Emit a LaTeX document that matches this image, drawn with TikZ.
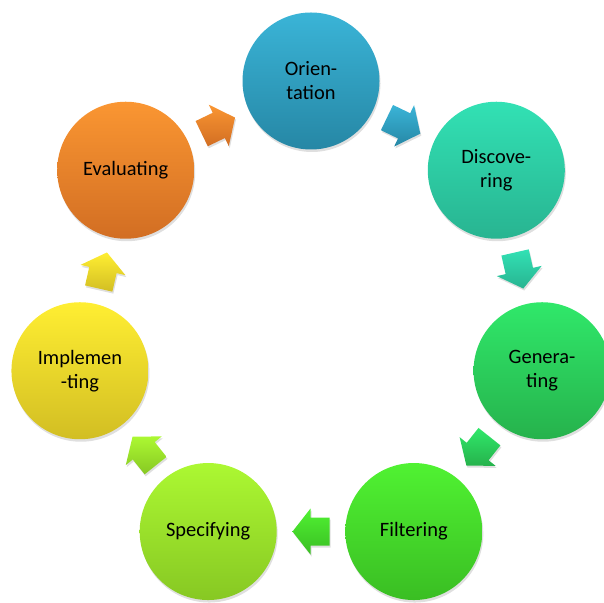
\documentclass[tikz,border=0pt]{standalone}
\usepackage{fontspec}
\setmainfont{Carlito}
\usetikzlibrary{calc,shadows}

\definecolor{oriTop}{HTML}{3AB4D7}  \definecolor{oriBot}{HTML}{2687A5}
\definecolor{disTop}{HTML}{32E1B4}  \definecolor{disBot}{HTML}{28B491}
\definecolor{genTop}{HTML}{30E86A}  \definecolor{genBot}{HTML}{26B24C}
\definecolor{filTop}{HTML}{50F232}  \definecolor{filBot}{HTML}{3ABE23}
\definecolor{speTop}{HTML}{ACF832}  \definecolor{speBot}{HTML}{87C823}
\definecolor{impTop}{HTML}{FFEE32}  \definecolor{impBot}{HTML}{D2BE23}
\definecolor{evaTop}{HTML}{FA9632}  \definecolor{evaBot}{HTML}{D26E23}

\tikzset{
  stage/.style={circle, minimum size=137bp, inner sep=0pt, align=center,
    font=\fontsize{20.5}{24}\selectfont, text=black,
    drop shadow={opacity=0.25, shadow xshift=1bp, shadow yshift=-2.5bp}},
  blockarrow/.style={drop shadow={opacity=0.25, shadow xshift=1bp, shadow yshift=-2bp}}
}

% block arrow at a named point, turned by an angle
\newcommand{\cyclearrow}[4]{%
  \begin{scope}[shift={(#1)}, rotate=#2]
    \path[blockarrow, top color=#3, bottom color=#4]
      (-18.5,-14) -- (0.5,-14) -- (0.5,-23) -- (18.5,0) -- (0.5,23)
      -- (0.5,14) -- (-18.5,14) -- cycle;
  \end{scope}}

\begin{document}
\begin{tikzpicture}[x=1bp, y=1bp]

   \useasboundingbox (0,0) rectangle (604,603);
   \coordinate (c) at (311,285);

   \node[stage, top color=oriTop, bottom color=oriBot] (ori) at ($(c)+(90:237)$) {Orien-\\tation};
   \node[stage, top color=disTop, bottom color=disBot] (dis) at ($(c)+(38.57:237)$) {Discove-\\ring};
   \node[stage, top color=genTop, bottom color=genBot] (gen) at ($(c)+(-12.86:237)$) {Genera-\\ting};
   \node[stage, top color=filTop, bottom color=filBot] (fil) at ($(c)+(-64.29:237)$) {Filtering};
   \node[stage, top color=speTop, bottom color=speBot] (spe) at ($(c)+(-115.71:237)$) {Specifying};
   \node[stage, top color=impTop, bottom color=impBot] (imp) at ($(c)+(-167.14:237)$) {Implemen\\-ting};
   \node[stage, top color=evaTop, bottom color=evaBot] (eva) at ($(c)+(141.43:237)$) {Evaluating};

   \coordinate (m1) at ($(ori)!0.5!(dis)$);
   \coordinate (m2) at ($(dis)!0.5!(gen)$);
   \coordinate (m3) at ($(gen)!0.5!(fil)$);
   \coordinate (m4) at ($(fil)!0.5!(spe)$);
   \coordinate (m5) at ($(spe)!0.5!(imp)$);
   \coordinate (m6) at ($(imp)!0.5!(eva)$);
   \coordinate (m7) at ($(eva)!0.5!(ori)$);

   \cyclearrow{m1}{-25.71}{oriTop}{oriBot}
   \cyclearrow{m2}{-77.14}{disTop}{disBot}
   \cyclearrow{m3}{-128.57}{genTop}{genBot}
   \cyclearrow{m4}{180}{filTop}{filBot}
   \cyclearrow{m5}{128.57}{speTop}{speBot}
   \cyclearrow{m6}{77.14}{impTop}{impBot}
   \cyclearrow{m7}{25.71}{evaTop}{evaBot}

\end{tikzpicture}
\end{document}
